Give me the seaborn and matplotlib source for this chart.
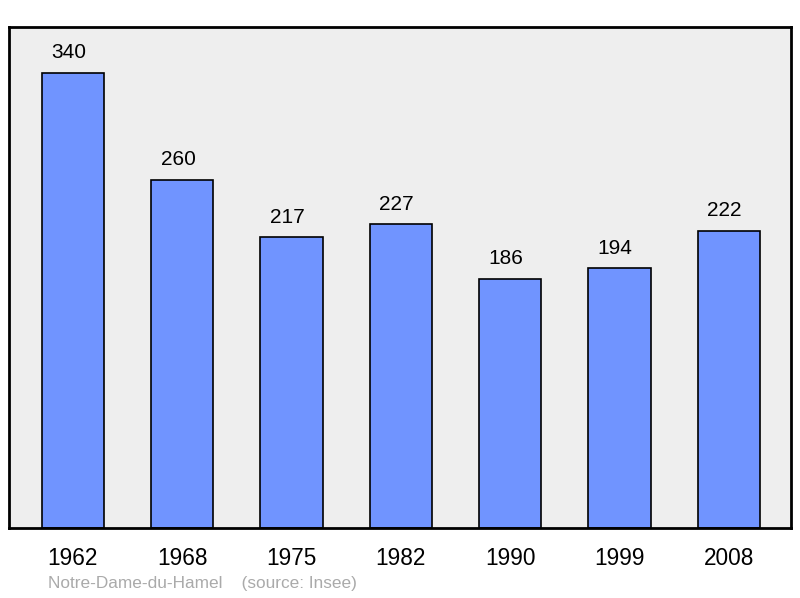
import matplotlib
matplotlib.use('Agg')
import matplotlib.pyplot as plt
import seaborn as sns
import pandas as pd

# population data
annees = ['1962', '1968', '1975', '1982', '1990', '1999', '2008']
population = [340, 260, 217, 227, 186, 194, 222]

df = pd.DataFrame({'Annee': annees, 'Population': population})

sns.set_style('white')
plt.rcParams['font.family'] = ['Liberation Sans', 'DejaVu Sans']

fig = plt.figure(figsize=(8, 5.98), dpi=100)
ax = fig.add_axes([0.01125, 0.117, 0.9775, 0.8378])
ax.set_facecolor('#eeeeee')

sns.barplot(x='Annee', y='Population', data=df, color='#7094ff',
            saturation=1, width=0.57, edgecolor='black', linewidth=1.2, ax=ax)

# etichete cu valorile, putin la stanga fata de centru
for i, v in enumerate(population):
    ax.annotate(str(v), (i, v), xytext=(-3, 7.5), textcoords='offset points',
                ha='center', va='bottom', fontsize=15, color='black')

ax.set_xlim(-0.585, 6.57)
ax.set_ylim(0, 374)
ax.set_yticks([])
ax.set_xlabel('')
ax.set_ylabel('')
ax.tick_params(axis='x', length=0, pad=13.5, labelsize=16.3, labelcolor='black')
for s in ax.spines.values():
    s.set_visible(True)
    s.set_linewidth(2)
    s.set_color('black')

fig.text(0.06, 0.017, 'Notre-Dame-du-Hamel    (source: Insee)', fontsize=12.4, color='#aaaaaa')

plt.savefig('out.png', dpi=100)
